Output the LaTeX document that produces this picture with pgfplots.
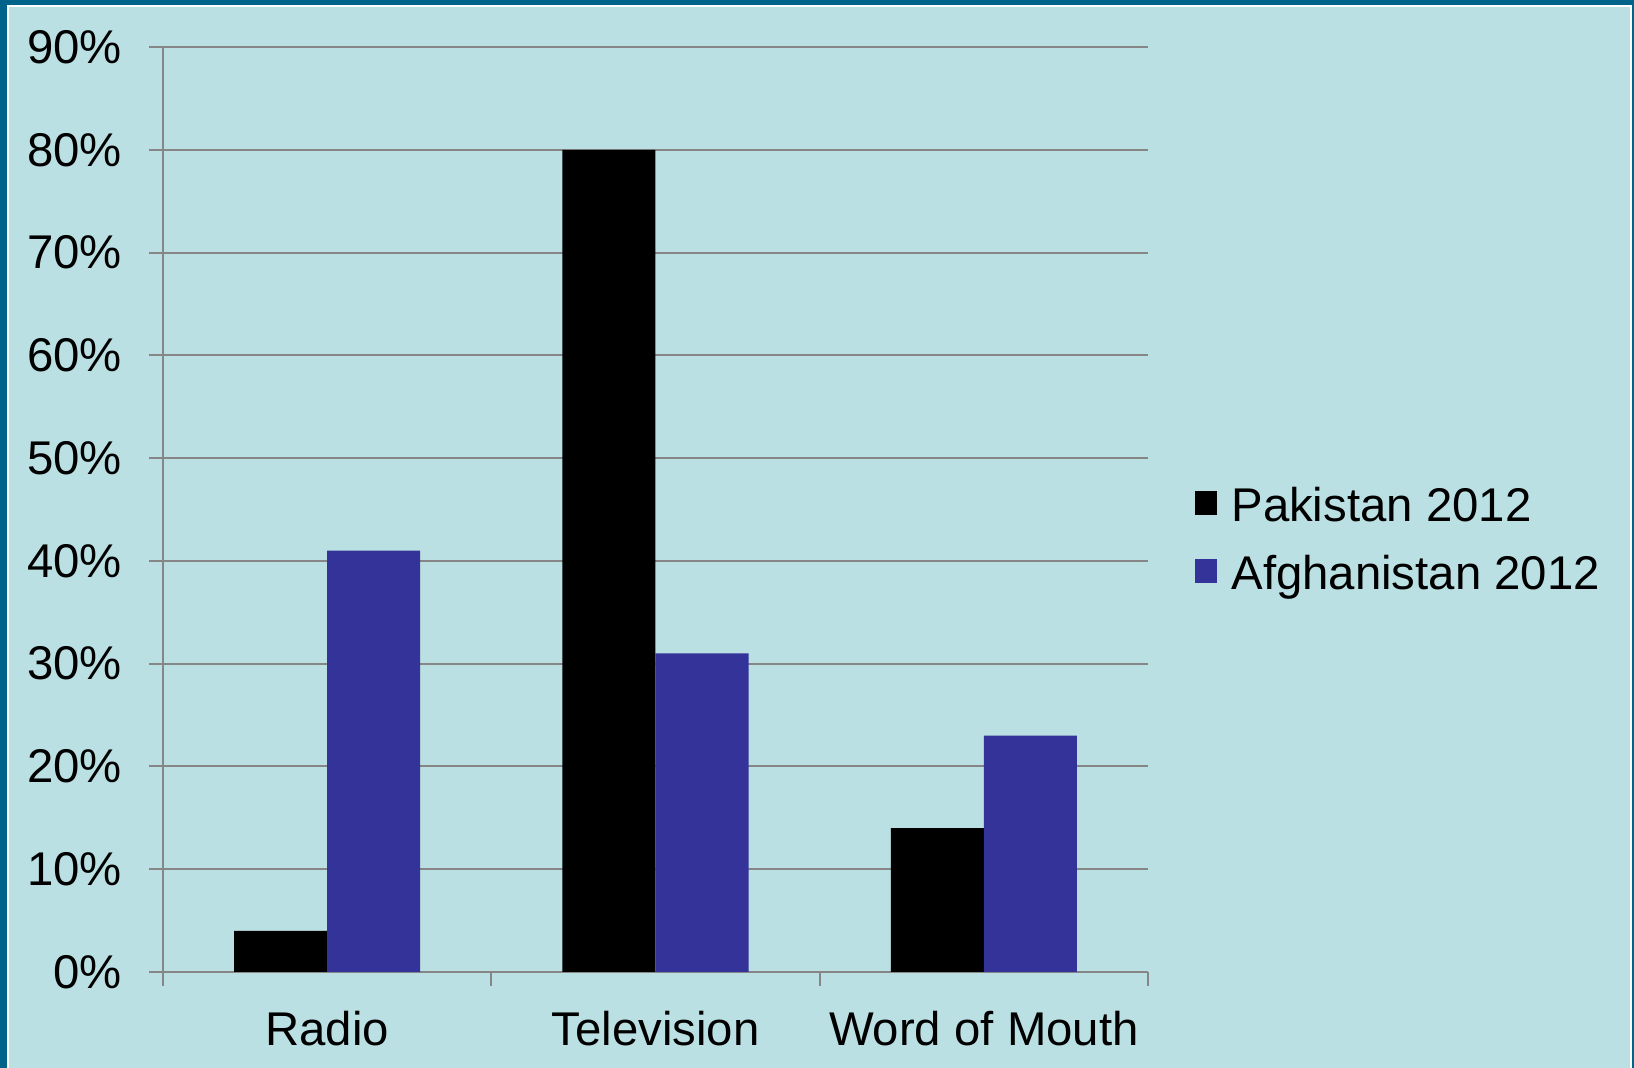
\documentclass[border=0pt]{standalone}
\usepackage{fontspec}
\setmainfont{Liberation Sans}
\usepackage{pgfplots}
\pgfplotsset{compat=1.18}
\definecolor{bg}{RGB}{186,224,227}
\definecolor{frame}{RGB}{0,99,138}
\definecolor{afg}{RGB}{51,51,153}
\definecolor{gridc}{RGB}{134,134,134}
\newcommand\fsz{\fontsize{14.2}{17}\selectfont}
\begin{document}
\begin{tikzpicture}[x=1pt,y=1pt]
\fill[frame] (0,0) rectangle (490.2,320.4);
\fill[white] (2.1,0) rectangle (489.6,318.9);
\fill[bg] (2.7,0) rectangle (489.0,318.3);
\useasboundingbox (0,0) rectangle (490.2,320.4);
\begin{axis}[
  at={(48.9pt,28.8pt)}, anchor=south west,
  scale only axis, width=295.5pt, height=277.5pt,
  ybar=0pt, bar width=27.9pt,
  xmin=-0.5, xmax=2.5, ymin=0, ymax=90,
  axis x line*=bottom, axis y line*=left,
  axis line style={gridc, line width=0.6pt},
  ytick={0,10,...,90},
  yticklabels={0\%,10\%,20\%,30\%,40\%,50\%,60\%,70\%,80\%,90\%},
  ymajorgrids, grid style={gridc, line width=0.6pt},
  tick style={gridc, line width=0.6pt},
  tick align=outside, major tick length=4.2pt,
  xtick={-0.5,0.5,1.5,2.5}, xticklabels={},
  extra x ticks={0,1,2},
  extra x tick labels={Radio,Television,Word of Mouth},
  extra x tick style={major tick length=0pt, tick style={draw=none}},
  tick label style={font=\fsz, text=black},
  yticklabel style={xshift=-4.6pt},
  xticklabel style={yshift=-8.3pt},
  legend style={at={(1.037,0.465)}, anchor=west, draw=none, fill=none, font=\fsz,
    row sep=3.4pt, nodes={text height=11pt, text depth=3pt, inner ysep=1.5pt, inner xsep=4.3pt}},
  legend cell align=left,
  legend image code/.code={\fill[#1,draw=none] (0pt,-2pt) rectangle (6.6pt,5.2pt);},
]
\addplot[fill=black, draw=none] coordinates {(0,4) (1,80) (2,14)};
\addplot[fill=afg, draw=none] coordinates {(0,41) (1,31) (2,23)};
\legend{Pakistan 2012, Afghanistan 2012}
\end{axis}
\end{tikzpicture}
\end{document}
